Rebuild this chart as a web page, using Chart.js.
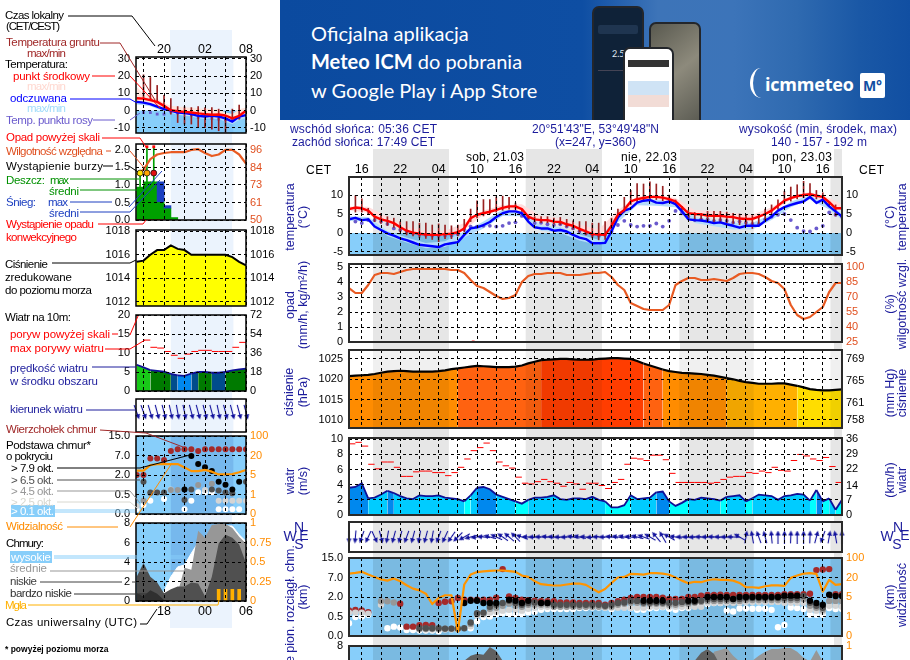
<!DOCTYPE html>
<html lang="pl">
<head>
<meta charset="utf-8">
<title>Meteogram ICM</title>
<script src="https://cdn.jsdelivr.net/npm/chart.js@4"></script>
<style>
html,body{margin:0;padding:0;background:#fff;width:910px;height:660px;overflow:hidden;font-family:"Liberation Sans",Arial,sans-serif;}
#stage{position:relative;width:910px;height:660px;overflow:hidden;}
.strip{position:absolute;}
canvas{position:absolute;}
#notes{position:absolute;left:0;top:0;z-index:5;}
#banner{position:absolute;left:280px;top:0;width:630px;height:120px;overflow:hidden;color:#fff;font-family:Lato,"Open Sans",sans-serif;
  background:linear-gradient(90deg,#0b4a9f 0,#0e4ea3 48%,#3d74b8 60%,#3c74b9 72%,#2f6ab0 82%,#1a58a6 92%,#114fa2 100%);}
#banner .ln{position:absolute;left:31px;font-size:20px;white-space:nowrap;}
.ph{position:absolute;border:2px solid #23262b;border-radius:7px;background:#0f2238;box-sizing:border-box;}
</style>
</head>
<body>
<div id="stage">
  <div class="strip" style="left:170px;top:30px;width:62px;height:598px;background:#ebf3fd"></div>
  <div class="strip" style="left:373px;top:149px;width:76px;height:511px;background:#e6e6e6"></div>
  <div class="strip" style="left:526px;top:149px;width:76px;height:511px;background:#e6e6e6"></div>
  <div class="strip" style="left:680px;top:149px;width:74px;height:511px;background:#e6e6e6"></div>
  <div class="strip" style="left:834px;top:149px;width:8px;height:511px;background:#e6e6e6"></div>
  <div id="banner">
    <div class="ln" style="top:21px">Oficjalna aplikacja</div>
    <div class="ln" style="top:49px"><b>Meteo ICM</b> do pobrania</div>
    <div class="ln" style="top:78px">w Google Play i App Store</div>
    <div class="ph" style="left:312px;top:6px;width:52px;height:130px">
      <div style="position:absolute;left:18px;top:40px;font:9px Lato;color:#dfe8f2">2.5°</div>
      <div style="position:absolute;left:4px;top:17px;width:40px;height:9px;background:#1f3550;border-radius:2px"></div>
      <div style="position:absolute;left:4px;top:62px;width:40px;height:1px;background:#445"></div>
    </div>
    <div class="ph" style="left:369px;top:22px;width:52px;height:120px;background:linear-gradient(140deg,#59594f,#8d8a7c 45%,#4e4f48)"></div>
    <div class="ph" style="left:343px;top:47px;width:51px;height:95px;background:#fff">
      <div style="position:absolute;left:3px;top:11px;width:41px;height:7px;background:#333"></div>
      <div style="position:absolute;left:3px;top:32px;width:41px;height:14px;background:#cfe3f5"></div>
      <div style="position:absolute;left:3px;top:46px;width:41px;height:12px;background:#f2dcd6"></div>
    </div>
    <div style="position:absolute;left:470px;top:68px;width:22px;height:30px;box-sizing:border-box;border-left:3px solid #fff;border-radius:50%"></div>
    <div style="position:absolute;left:485px;top:72px;font:bold 18px 'Open Sans',sans-serif;letter-spacing:-.2px;white-space:nowrap">icmmeteo</div>
    <div style="position:absolute;left:580px;top:73px;width:25px;height:25px;background:#fff;color:#114fa2;font:bold 14px/25px 'Open Sans',sans-serif;text-align:center;border-radius:2px">M°</div>
  </div>
</div>
<script>
// forecast hours, counted from Friday 00 local time
var mainHours = [];
for (var h = 14; h <= 91; h++) mainHours.push(h);
var leftHours = [16,17,18,19,20,21,22,23,24,25,26,27,28,29,30,31,32];
var bandHours = [14,17,20,23,26,29,32,35,38,41,44,47,50,53,56,59,62,65,68,71,74,77,80,83,86,89,91];
var _ = null;

// ---- main meteogram
var mainTemp = [6.3,6.7,6.5,5.9,4.3,3.6,3.2,2.6,1.5,0.6,0.1,-0.2,-0.4,-0.5,-0.5,-0.3,-0.2,0.2,1.2,3.9,4.8,5.2,5.6,6.1,6.6,7.0,7.0,6.3,4.3,3.6,3.4,3.4,3.0,2.9,2.3,1.9,1.1,0.4,-0.3,-0.4,-0.5,1.9,4.8,6.1,8.3,8.9,9.2,9.5,9.5,9.3,8.9,8.3,6.8,5.2,5.0,4.9,4.6,4.5,4.5,4.3,4.2,3.8,3.7,3.7,4.3,5.0,5.9,7.2,8.5,9.2,9.7,10.0,10.2,9.8,9.5,8.1,6.5,6.5];
var mainFeels = [3.6,4.0,3.4,3.6,1.7,0.8,-0.1,-0.7,-1.4,-1.9,-2.5,-3.1,-3.3,-3.5,-3.7,-3.0,-2.7,-2.4,-0.5,1.2,1.5,2.1,2.9,4.2,5.2,5.7,5.7,5.2,3.0,1.5,1.2,1.2,0.6,0.8,0.4,-0.5,-1.2,-1.6,-2.7,-2.7,-2.6,0.4,4.1,5.9,6.5,8.0,8.5,8.7,8.0,7.9,8.3,7.6,5.7,3.6,3.4,3.3,3.0,2.6,2.8,2.3,1.9,1.4,1.9,1.9,1.9,3.2,4.3,5.9,6.8,7.4,7.9,8.3,9.5,7.9,8.8,7.0,5.7,4.3];
var tempMax = [7.0,6.9,4.2,1.5,0.5,0.6,2.6,5.9,7.4,7.6,4.4,3.9,2.2,0.9,6.0,9.6,10.0,9.2,6.0,5.8,5.2,4.8,6.8,9.8,10.8,9.2,7.5];
var tempMin = [6.0,5.3,2.9,0.4,-0.6,-0.7,0.8,4.8,6.1,5.6,3.0,2.5,0.8,-0.8,3.9,8.3,9.0,7.5,4.6,4.0,3.6,3.2,5.3,8.8,9.8,7.3,6.2];
var feelsMax = [4.4,4.2,0.5,-1.2,-2.6,-2.2,0.4,3.0,6.2,5.8,2.0,1.6,-0.4,-1.8,5.0,8.8,8.8,8.4,4.2,3.3,2.6,2.6,5.0,8.2,10.0,7.8,5.0];
var feelsMin = [3.2,3.0,-0.8,-2.5,-4.0,-3.7,-1.2,1.2,4.5,4.4,0.6,0.0,-2.0,-3.2,2.8,7.3,7.2,6.8,2.6,1.8,0.9,0.9,3.4,6.8,8.8,6.2,3.5];
var groundMax = [10,9.8,9,6.5,4.8,5.2,4.3,3.9,3,3,3,2.6,2.6,2.1,2.4,2.1,1.9,2.1,3.6,6.3,8.5,8.8,8.8,9.5,9.7,9.4,7.9,6.3,4.8,4.3,4.3,4.3,3.9,4.1,3.6,3.2,3,3,2.6,2.6,3,3.9,6.3,9.4,11.2,13,12.9,13.5,12.9,12.3,10,8.7,7,6,5.4,5.2,5.7,5.7,5.7,5.5,5.2,5,4.8,4.6,4.8,6.3,7.4,8.7,11,12.1,12.7,13.6,13,11.2,10.6,7.9,7.4,6.5];
var groundMin = [5.5,5.5,5.5,5,3,2.5,2,1.5,0.3,-0.5,-0.8,-1.2,-1.4,-1.7,-2.3,-1.5,-1.5,-0.8,0.3,3,4,4.5,5,5.5,6,6.3,6.3,5.7,3.7,3,2.7,2.7,2.3,2.2,1.6,1,0.3,-0.5,-1.3,-1.8,-1.7,1,4,5.5,7.5,8,8.5,8.8,8.8,8.5,8.2,7.7,6,3.5,3.2,3.2,3,3,2.9,2.7,2.5,2.2,1.8,1.2,2.5,3.5,4.8,6.3,7.7,8.4,9,9.3,9.5,9,8.7,7.2,4.5,5.5];
var dewPoint = [_,3.0,2.6,3.4,3.4,3.0,2.4,1.2,0.8,0.4,-0.1,-0.4,-0.5,-0.7,-0.7,-0.7,-0.7,-0.3,1.0,1.7,1.7,1.9,1.9,1.7,1.9,2.6,2.8,4.5,3.9,2.6,2.7,2.3,2.1,2.3,1.7,1.2,0.4,-0.1,-0.5,-0.7,-0.5,0.4,2.1,3.2,2.1,1.7,1.9,1.9,2.5,1.7,3.2,5.8,5.2,4.3,3.4,3.6,3.6,3.2,3.4,3.2,2.7,3.0,2.7,2.4,2.4,3.6,4.3,4.8,5.0,3.4,1.4,0.5,0.4,1.2,1.9,5.4,4.8,4.3];
var humidity = [79,74,74,82,92,94,94,93,95,97,98,98,98,98,98,98,97,97,94,87,81,79,75,71,68,69,72,85,91,93,93,94,94,94,92,92,92,93,94,94,95,90,82,77,64,61,58,57,57,57,62,82,86,89,89,87,87,88,87,86,89,93,94,94,93,90,86,84,78,62,52,48,50,55,60,75,84,84];
var convectiveHours = [33.4];
var convectiveLevel = [0];
var pressure = [1020.8,1020.9,1021,1021.1,1021.3,1021.6,1021.9,1022,1022.1,1022,1021.9,1021.9,1021.9,1021.9,1022,1022.2,1022.5,1022.7,1022.9,1023.1,1023.3,1023.2,1023.1,1023,1023,1023,1023.1,1023.4,1023.9,1024.3,1024.7,1024.8,1024.9,1025,1025,1024.9,1024.8,1024.8,1024.8,1025,1025.1,1025.2,1025.2,1025.1,1025,1024.5,1023.9,1023.4,1022.9,1022.4,1022,1021.8,1021.6,1021.5,1021.4,1021.3,1021.1,1020.9,1020.6,1020.3,1020,1019.6,1019.3,1019.1,1018.9,1018.9,1018.9,1019,1019,1018.7,1018.4,1018,1017.6,1017.4,1017.3,1017.3,1017.4,1017.5];
var windSpeed = [3.6,3.7,4.2,2.2,2.3,2.7,3.2,2.9,2.5,2.2,2.1,2.6,2.5,2.5,2.6,2.3,2.2,2.1,1.8,2.6,3.6,3.7,3.4,2.7,2.4,2.1,1.8,1.5,2.0,2.3,2.3,2.4,2.6,2.1,2.0,2.2,2.2,2.1,2.4,2.0,1.8,1.0,1.0,1.3,2.6,2.1,2.2,2.3,3.0,3.1,1.8,1.2,1.6,2.1,2.0,2.3,2.2,2.1,1.9,2.4,2.5,2.6,1.8,2.2,2.7,2.6,2.5,2.0,2.5,2.6,2.8,2.7,1.9,3.3,1.8,2.2,0.7,2.0];
var windGust = [9.4,9.6,9.1,6.7,6.1,7.0,7.0,6.3,5.1,5.1,5.7,5.8,5.8,5.6,5.6,5.2,5.6,6.3,7.4,8.5,8.9,9.5,8.5,7.0,6.5,6.2,5.0,4.2,4.1,4.4,4.7,4.4,4.2,3.8,4.3,4.1,3.4,4.2,4.2,3.9,3.5,4.3,4.7,6.7,7.5,7.4,7.2,7.9,7.9,7.3,5.5,4.3,4.3,4.3,4.3,4.3,4.2,4.3,4.7,5.0,5.1,5.1,5.6,5.5,5.8,5.6,6.3,5.9,5.8,7.2,8.0,7.8,7.4,7.2,7.6,6.4,4.3,3.3];
var windDir = [180,185,200,205,155,165,190,195,195,200,195,190,195,190,200,205,215,225,240,255,262,275,285,295,305,310,315,290,275,270,272,278,275,270,268,280,283,275,265,272,270,278,280,283,278,285,290,300,320,330,300,280,272,270,268,272,270,274,272,270,272,300,10,350,340,345,355,0,0,2,0,0,2,15,200,10,350,0];
// cloud bases and visibility: position on the uneven axis, 0..4 = 0, 0.5, 2, 7, 15 km
var cloudTop = [1.31,1.34,1.31,1.22,_,_,_,_,1.66,.48,.48,.55,.57,.55,1.69,1.76,1.78,1.95,1.86,1.86,1.86,1.86,1.86,1.97,3.43,2.03,1.95,1.86,1.83,1.81,1.79,1.79,1.79,1.72,1.72,1.72,1.69,1.69,1.69,1.69,1.6,1.69,1.79,1.86,1.95,2,2,2,2,1.97,1.9,1.9,1.9,2,2,2.07,2.1,2.1,2.12,2.1,2.1,2.1,2.1,2.1,2.1,2.1,2.1,2.1,2.14,2.14,2.14,2.14,2.17,3.38,3.41,3.43,2.14,2.14];
var cloudOver79 = [_,_,_,_,_,_,_,_,_,_,_,_,_,_,_,_,_,_,1.69,1.81,1.81,1.69,1.69,1.69,_,1.86,1.81,1.69,1.81,_,1.69,1.69,_,_,_,_,_,_,_,_,_,_,_,_,_,_,1.81,1.81,1.81,1.81,_,_,_,1.81,1.81,_,2,2,2,2,1.9,2,2,2,2,2,2,2,2.07,2.07,2.07,_,1.81,1.69,1.6,2.12,2.05,2.05];
var cloudOver65 = [_,_,_,_,_,_,_,_,_,_,_,.4,.4,.4,.4,.38,.38,.38,.4,.69,1.17,1.2,1.5,1.6,1.69,1.81,1.69,1.6,1.69,1.72,1.69,1.69,1.6,1.6,1.6,1.6,1.6,1.6,1.6,1.6,1.55,1.6,1.69,1.72,1.8,1.8,1.72,1.72,1.72,1.72,1.7,1.7,1.75,1.75,1.75,1.81,1.9,1.9,1.9,1.9,1.9,1.9,1.95,1.95,1.95,1.95,1.95,1.95,1.95,1.95,1.95,2.05,1.7,1.55,1.45,_,_,_];
var cloudOver45 = [_,_,_,_,_,1.78,1.78,1.72,_,_,_,.37,.37,.37,.37,.37,.37,.37,_,.62,1.12,1.15,1.4,1.45,1.55,1.66,1.55,1.5,1.6,1.6,1.6,1.6,1.5,1.5,1.5,1.5,1.5,1.5,1.5,1.5,1.5,1.5,1.6,1.65,1.7,1.7,1.65,1.65,1.65,1.65,1.6,1.6,1.65,1.65,1.7,1.75,1.8,1.8,1.8,1.8,1.8,1.8,1.85,1.85,1.85,1.85,1.85,1.85,1.85,1.85,1.85,1.9,1.55,1.45,1.35,1.8,1.8,1.8];
var cloudOver25 = [1.2,1.2,1.2,1.15,_,1.6,_,_,_,_,_,.33,.33,.33,.33,.33,.33,.33,_,.5,1.05,1.1,1.2,1.25,1.3,1.35,1.35,1.3,1.4,1.45,1.5,1.5,1.5,1.5,1.5,1.5,1.5,1.5,1.5,1.5,1.45,1.45,1.45,1.45,1.45,1.45,1.45,1.5,1.5,1.5,1.5,1.5,1.5,1.5,1.5,1.5,1.7,1.7,1.7,1.7,1.7,1.7,1.75,1.75,1.75,1.75,1.75,1.75,1.7,1.7,1.7,1.7,1.35,1.3,1.25,1.55,1.55,1.5];
var cloudOver01 = [.66,.97,1,1.09,_,_,.4,.48,.43,.31,.31,.28,.28,.28,.24,_,_,_,_,.4,.74,.97,1,1.12,1.17,1.12,1.12,1.12,1.21,1.24,1.34,1.38,1.38,1.38,1.38,1.38,1.43,1.43,1.46,1.46,1.46,1.38,1.55,1.48,1.43,1.34,1.34,1.43,1.43,1.48,1.4,1.34,1.43,1.45,1.6,1.64,1.64,1.69,1.69,1.31,1.26,1.41,1.41,1.4,1.4,1.4,1.34,.45,.57,1.46,1.43,1.38,1.09,1.09,1.09,1.43,1.38,1.38];
var visibility = [3.2,3.24,3.29,3.15,3.03,2.9,2.84,2.95,2.81,2.6,2.43,2.34,2.17,1.64,1.95,2.09,2.09,.22,2.64,3.15,3.28,3.31,3.34,3.36,3.36,3.33,3.29,3.1,3.03,2.81,2.66,2.62,2.59,2.59,2.64,2.69,2.69,2.62,2.43,2.24,2.41,2.72,3,3.03,3.19,3.17,3.15,3.22,3.22,3.2,3.14,3,2.84,2.71,2.78,2.76,2.86,2.91,2.88,2.88,2.84,2.72,2.5,2.5,2.47,2.55,2.6,2.6,2.57,2.98,3.1,3.2,3.22,3.19,2.28,2.88,2.62,2.66];
var coverMid = [5,5,5,5,5,5,5,5,5,5,5,5,5,5,5,5,5,5,5,5,5,5,5,5,5,5,5,5,5,5,5,5,5,5,5,5,5,5,5,5,5,5,5,5,5,5,5,5,5,5,5,5,5,5,5,5,5,7.4,7.6,7.8,7,6.4,5,6.5,7,7.4,7.7,7.7,7.8,7.8,7.4,6.8,6.4,7.6,6.4,5,5,5];
var coverLow = [3,3,3,3,3,3,3,3,3,3,3,3,3,3,3,3,3,3,6.5,7,7.2,7.1,7.9,7.5,6.5,5,5,5,5,5,5,5,5,5,5,5,5,5,5,5,5,5,5,5,5,5,5,5,5,5,5,5,5,5,6.5,7.3,7.7,7.2,6,6,5,5,5,5,5,5,5,5,5,5,5,5,5,5,5,5,5,5];

// ---- legend meteogram on the left
var legTemp = [7.1,6.9,6,5,2.7,0.2,-0.4,-0.8,-1.2,-1.7,-2.1,-2.5,-2.3,-2.9,-4.6,-3.1,-0.2];
var legFeels = [5,4.6,3.7,2.3,0.8,0,-1.2,-1.5,-2.1,-3.1,-3.5,-3.1,-3.5,-4.6,-6.5,-3.5,-2.7];
var legTempMax = [13.8,9.4,8.5,6.9,4.2,2.7,2.3,1.7,1.7,1.2,1.2,0.8,0.8,-1.2,-2.1,0.8,1.7];
var legTempMin = [5.5,5,4,3,0.5,-1,-2,-2.5,-3,-3.5,-4,-4.5,-4.5,-5,-6,-5,-2.5];
var legFeelsMax = [6,5.5,5,3.5,2,1,0,-0.5,-1,-1.8,-2.4,-2.2,-2.4,-3,-5,-2.5,-1.5];
var legFeelsMin = [3.5,3,2.5,1,-0.5,-1.5,-2.5,-3,-3.5,-4.5,-5,-4.5,-5,-6.5,-8,-5.5,-4.5];
var legGroundMax = [_,20.8,19.2,14.6,8.8,6.9,2.3,2.3,1.7,2.3,1.7,1.7,0.8,-3,0.8,3.1,_];
var legGroundMin = [_,6.5,6.5,4.6,0,-2.1,-7,-7.9,-7.9,-10,-10,-10.9,-11.8,-12.7,-5,-5,_];
var legDew = [_,-1.2,-1.2,-2.1,-2.1,-0.8,-1.5,-1.2,-2.7,-4,-3.1,-4.6,-5,-5.4,-4.6,-4.2,_];
var legHumidity = [80,83,90,93,94,94.5,94.5,94.5,96,96.5,94,92,93,96,96,93,87];
var legRainHours = [16.5,17.5,18.5,19.5,20.5,21.5];
var legRain = [.94,1.09,1.09,.52,.34,.07];
var legSnowTop = [_,_,_,1.09,.41,_];
var legRainMaxHours = [16.5,17.5,18.5];
var legRainMax = [1.3,2.09,2.09];
var legOverScale = [_,2.09,2.09];
var legStorm = [1.34,1.34,1.34];
var legConvective = [0,0,0,0];
var legPressure = [1015.4,1015.5,1016,1016.4,1016.4,1016.8,1016.5,1016.4,1016,1016,1016,1016,1016,1016,1015.8,1015.4,1015.1];
var legWind = [6.9,6.2,5.5,5.3,5.1,4.5,4.1,4,4.6,5,5,4.8,4.8,5,5.4,5.7,5.9];
var legGust = [_,13.4,11.5,11.3,10.4,9.4,8.6,9.7,10.4,10.7,10.7,10.4,10.4,10.4,11.5,12.8,12.8];
var legDir = [160,160,163,165,165,168,170,168,165,165,165,165,168,165,165,165,165];
var legCloudTop = [2,2,2.85,2.85,2.77,3.23,3.32,3.32,3.32,3.23,3.32,3.32,3.32,3.32,3.32,3.32,3.32];
var legOver79 = [_,_,_,_,_,_,_,1.26,2.97,2.56,2.4,2.2,1.66,1.5,1.26,1.66,_];
var legOver65 = [_,1.66,1.1,1.1,1.1,_,_,.72,1.26,_,_,1.26,1.2,1.1,1.06,_,1.66];
var legOver45 = [_,.68,1.06,_,_,1.23,1.23,_,_,1.49,_,1.55,_,_,_,_,_];
var legOver25 = [.41,_,_,_,_,1.26,_,_,_,_,1.23,_,.68,.68,.68,.68,.68];
var legOver01 = [.24,.46,.68,_,.77,_,_,.24,.68,1.11,1.11,1.11,.24,.24,.24,.24,_];
var legVisibility = [2.22,2.22,2.51,2.55,2.56,2.56,2.56,2.39,2.2,2.2,2.26,2.17,2.03,2.03,2.05,2.14,2.26];
var legHigh = [0,0,0,0,1,2.5,3.5,3.7,4.9,6,6,7.5,7.7,7.7,7.7,6.8,6.1];
var legMid = [0,0,0,0,0,0,.8,3.4,3.2,7.2,6.5,7.8,7.9,7.9,7.5,6.6,5.9];
var legLow = [2.5,3.9,2.5,1.9,.8,1.2,1.5,1.5,1.9,1.8,.5,2.5,5.9,6.8,6.5,5.8,3.9];
var legVeryLow = [.8,.5,1.1,.75,.1,0,0,0,0,0,0,0,0,0,0,0,0];
var legFogHours = [28,29,30,31];
var legFog = [1.2,1.2,1.2,1.2];

// ---- tick labels
var cloudLevels = [0,1,2,3,4];
var cloudKm = ['0.0','0.5','2.0','7.0','15.0'];
var visKm = ['0','1','5','20','100'];
var coverTicks = [0,2,4,6,8];
var coverRight = ['0','0.25','0.5','0.75','1'];

var CLOUD_SKY = '#87cefa';
var FONT = 'Liberation Sans';
Chart.defaults.font.family = FONT;
Chart.defaults.font.size = 11;
Chart.defaults.animation = false;

function pts(xs, ys, shift) {
    return xs.map(function (x, i) { return {x: x + (shift || 0), y: ys[i]}; });
}
function line(xs, ys, color, width, axis) {
    return {type: 'line', data: pts(xs, ys), borderColor: color, borderWidth: width, pointRadius: 0, borderJoinStyle: 'round', yAxisID: axis || 'y'};
}
function bandPair(xs, hi, lo, color) {
    return [
        {type: 'line', data: pts(xs, hi), borderWidth: 0, pointRadius: 0, backgroundColor: color, fill: '+1'},
        {type: 'line', data: pts(xs, lo), borderWidth: 0, pointRadius: 0}
    ];
}
function dots(xs, ys, color, r, style) {
    return {type: 'scatter', data: pts(xs, ys), backgroundColor: color, borderColor: color, pointRadius: r, pointHoverRadius: r, pointStyle: style || 'circle', borderWidth: 0};
}
function sticks(xs, lo, hi, color, w) {
    return {type: 'bar', data: xs.map(function (x, i) { return {x: x, y: hi[i] === null ? null : [lo[i], hi[i]]}; }),
        backgroundColor: color, barThickness: w, grouped: false};
}
function dashes(xs, ys, color, r) {
    return {type: 'scatter', data: pts(xs, ys, .5), borderColor: color, backgroundColor: color, pointStyle: 'line', pointRadius: r, pointHoverRadius: r, borderWidth: 1};
}
function areaByValue(xs, ys, edge, edgeW, ramp) {
    return {type: 'line', data: pts(xs, ys), borderColor: edge, borderWidth: edgeW, pointRadius: 0, fill: 'start', backgroundColor: ramp(ys[0]),
        segment: {backgroundColor: function (c) { return ramp(c.p0.parsed.y); }}};
}
function area(xs, ys, color, edge) {
    return {type: 'line', data: pts(xs, ys), borderColor: edge || color, borderWidth: edge ? 1 : 0, pointRadius: 0, fill: 'start', backgroundColor: color};
}
function arrowImage(len) {
    var c = document.createElement('canvas');
    c.width = 7; c.height = len;
    var g = c.getContext('2d');
    g.strokeStyle = g.fillStyle = '#10109c';
    g.lineWidth = 1.1;
    g.beginPath(); g.moveTo(3.5, 2); g.lineTo(3.5, len); g.stroke();
    g.beginPath(); g.moveTo(3.5, 0); g.lineTo(6, 5); g.lineTo(1, 5); g.closePath(); g.fill();
    return c;
}
function arrows(xs, dirs, y, len) {
    return {type: 'scatter', data: xs.map(function (x) { return {x: x, y: y}; }), pointStyle: arrowImage(len), pointRadius: 5, pointRotation: dirs, clip: false};
}
function pressureColor(p) {
    if (p >= 1024.4) return '#ff3d00';
    if (p >= 1022.6) return '#ff6210';
    if (p >= 1020.4) return '#ff8c00';
    if (p >= 1018.6) return '#ffb000';
    if (p >= 1016.9) return '#ffdd00';
    return '#ffff00';
}
function windColor(v) {
    if (v < 2) return '#00ffff';
    if (v < 3) return '#00ccff';
    if (v < 4.3) return '#0088ee';
    if (v < 4.9) return '#004c8c';
    if (v < 5.8) return '#007a00';
    return '#18c818';
}

// white plot background, day or night strips and the freezing zone
var panelBack = {
    id: 'panelBack',
    beforeDatasetsDraw: function (chart, args, o) {
        var a = chart.chartArea, g = chart.ctx;
        g.save();
        g.fillStyle = o.bg;
        g.fillRect(a.left, a.top, a.width, a.height);
        if (!o.bandOver) paintBands(chart, o);
        if (o.zero) {
            var y0 = chart.scales.y.getPixelForValue(0);
            g.globalCompositeOperation = 'multiply';
            g.fillStyle = CLOUD_SKY;
            g.fillRect(a.left, y0, a.width, a.bottom - y0);
        }
        g.restore();
    },
    afterDatasetsDraw: function (chart, args, o) {
        if (o.bandOver) paintBands(chart, o);
    },
    afterDraw: function (chart, args, o) {
        var a = chart.chartArea, g = chart.ctx;
        g.save();
        g.strokeStyle = o.frame;
        g.lineWidth = o.frameW;
        g.strokeRect(a.left, a.top, a.width, a.height);
        g.restore();
    }
};
function paintBands(chart, o) {
    var a = chart.chartArea, g = chart.ctx, x = chart.scales.x;
    g.save();
    g.globalCompositeOperation = 'multiply';
    g.fillStyle = o.bandColor;
    o.bands.forEach(function (b) {
        var l = Math.max(x.getPixelForValue(b[0]), a.left), r = Math.min(x.getPixelForValue(b[1]), a.right);
        g.fillRect(l, a.top, r - l, a.height);
    });
    g.restore();
}

function yScale(position, min, max, ticks, labels, color, width, drawGrid) {
    return {
        type: 'linear', position: position, min: min, max: max,
        afterBuildTicks: function (s) { s.ticks = ticks.map(function (v) { return {value: v}; }); },
        afterFit: function (s) { s.width = width; },
        grid: {display: drawGrid, color: '#000', lineWidth: 1, z: 1, drawTicks: false},
        border: {display: false, dash: [3, 3]},
        ticks: {
            display: ticks.length > 0, color: color, padding: position === 'left' ? 6 : 4, autoSkip: false,
            font: {size: 11, family: FONT},
            callback: function (v) { var i = ticks.indexOf(v); return labels ? labels[i] : String(v); }
        }
    };
}

function panel(c) {
    var stage = document.getElementById('stage');
    var cv = document.createElement('canvas');
    var padT = 14, padB = 14;
    var w = c.left + c.w + c.right;
    var axisTop = c.xLabels && c.xPos === 'top' ? 15 : 0;
    var axisBot = c.xLabels && c.xPos === 'bottom' ? 15 : 0;
    cv.width = w;
    cv.height = padT + axisTop + c.h + axisBot + padB;
    cv.style.left = (c.x - c.left) + 'px';
    cv.style.top = (c.y - padT - axisTop) + 'px';
    stage.appendChild(cv);
    var scales = {
        x: {
            type: 'linear', min: c.xMin, max: c.xMax, offset: false, position: c.xPos || 'bottom',
            afterBuildTicks: function (s) { s.ticks = c.xGrid.map(function (v) { return {value: v}; }); },
            afterFit: function (s) { s.height = axisTop + axisBot; },
            grid: {display: true, offset: false, color: '#000', lineWidth: 1, z: 1, drawTicks: false},
            border: {display: false, dash: [3, 3]},
            ticks: {
                display: !!c.xLabels, color: '#000', padding: c.xPos === 'top' ? 0 : 3, autoSkip: false, maxRotation: 0, minRotation: 0,
                font: {size: 12.5, family: FONT},
                callback: function (v) { return c.xLabels ? c.xLabels(v) : ''; }
            }
        },
        y: yScale('left', c.yMin, c.yMax, c.yTicks, c.yLabels, '#000', c.left, c.yTicks.length > 0),
        y2: yScale('right', c.rMin, c.rMax, c.rTicks, c.rLabels, c.rColor || '#000', c.right, false)
    };
    new Chart(cv, {
        type: 'line',
        data: {datasets: c.sets},
        options: {
            responsive: false, maintainAspectRatio: false, devicePixelRatio: 1, animation: false,
            layout: {autoPadding: false, padding: {top: padT, bottom: padB, left: 0, right: 0}},
            plugins: {
                legend: {display: false}, tooltip: {enabled: false},
                panelBack: {bg: c.bg || '#fff', bands: c.bands, bandColor: c.bandColor, zero: !!c.zero, bandOver: !!c.bandOver, frame: c.frame, frameW: c.frameW}
            },
            scales: scales
        },
        plugins: [panelBack]
    });
}

function everyThird(from, to) {
    var list = [];
    for (var t = from; t <= to; t += 3) list.push(t);
    return list;
}
function two(n) { n = ((n % 24) + 24) % 24; return (n < 10 ? '0' : '') + n; }

var mainBands = [[17.75, 29.6], [41.6, 53.5], [65.6, 77.2], [89.2, 92]];
var M = {x: 349, w: 493, left: 60, right: 42, xMin: 14, xMax: 91, xGrid: everyThird(16, 91), bands: mainBands, bandColor: '#e6e6e6', frame: '#2a2a2a', frameW: 2};
var L = {x: 135.5, w: 110, left: 40, right: 40, xMin: 15.9, xMax: 32, xGrid: everyThird(17, 32), bands: [[21, 30.15]], bandColor: '#ebf3fd', frame: '#000', frameW: 1.5};
function mainPanel(o) { panel(Object.assign({}, M, o)); }
function legPanel(o) { panel(Object.assign({}, L, o)); }

// main: temperature
mainPanel({
    y: 177, h: 78, yMin: -5.79, yMax: 14.74, yTicks: [-5, 0, 5, 10], rMin: -5.79, rMax: 14.74, rTicks: [-5, 0, 5, 10], zero: true,
    xPos: 'top', xLabels: function (t) { return (t - 16) % 6 === 0 ? two(t) : ''; },
    sets: [
        line(mainHours, mainTemp, '#ff0000', 2.4),
        line(mainHours, mainFeels, '#0000ff', 2.4),
        sticks(mainHours, groundMin, groundMax, '#992222', 1),
        dots(mainHours, dewPoint, '#6a5acd', 1.9)
    ].concat(bandPair(bandHours, tempMax, tempMin, '#ffdcdc'), bandPair(bandHours, feelsMax, feelsMin, '#b4dcfa'))
});
// main: precipitation and humidity
mainPanel({
    y: 264, h: 78, yMin: 0, yMax: 5.2, yTicks: [0, 1, 2, 3, 4, 5], rMin: 25, rMax: 103, rTicks: [25, 40, 55, 70, 85, 100], rColor: '#e05020',
    sets: [
        dots(convectiveHours, convectiveLevel, '#ff0000', 2, 'rect'),
        line(mainHours, humidity, '#e85a22', 2.2, 'y2')
    ]
});
// main: pressure
mainPanel({
    y: 350, h: 78, yMin: 1008.03, yMax: 1027.2, yTicks: [1010, 1015, 1020, 1025], rMin: 756.5, rMax: 770.66, rTicks: [758, 761, 765, 769], bandOver: true, bandColor: '#f0f0f0',
    sets: [areaByValue(mainHours, pressure, '#000', 2.2, pressureColor)]
});
// main: wind speed
mainPanel({
    y: 437.7, h: 77.3, yMin: 0, yMax: 10.17, yTicks: [0, 2, 4, 6, 8, 10], rMin: 0, rMax: 36.6, rTicks: [0, 7, 14, 22, 29, 36],
    sets: [
        dashes(mainHours, windGust, '#ff0000', 3.2),
        areaByValue(mainHours, windSpeed, '#0f0f96', 1.8, windColor)
    ]
});
// main: wind direction
mainPanel({
    y: 522, h: 30, yMin: 0, yMax: 1, yTicks: [], rMin: 0, rMax: 1, rTicks: [],
    sets: [arrows(mainHours, windDir, .5, 13)]
});
// main: cloud base and visibility
mainPanel({
    y: 558, h: 78, yMin: 0, yMax: 4, yTicks: cloudLevels, yLabels: cloudKm, rMin: 0, rMax: 4, rTicks: cloudLevels, rLabels: visKm, rColor: '#ff8c00', bg: CLOUD_SKY,
    sets: [
        line(mainHours, visibility, '#ff9400', 2.2),
        dots(mainHours, cloudOver79, '#000', 3.2),
        dots(mainHours, cloudOver65, '#505050', 3.2),
        dots(mainHours, cloudOver45, '#979797', 3.2),
        dots(mainHours, cloudOver25, '#d4d4d4', 3.2),
        dots(mainHours, cloudTop, '#a52a2a', 3.2),
        dots(mainHours, cloudOver01, '#fff', 3.2)
    ]
});
// main: cloud cover, runs off the bottom of the page
mainPanel({
    y: 646, h: 78, yMin: 0, yMax: 8, yTicks: coverTicks, rMin: 0, rMax: 8, rTicks: coverTicks, rLabels: coverRight, rColor: '#ff8c00', bg: CLOUD_SKY,
    sets: [area(mainHours, coverLow, '#606060'), area(mainHours, coverMid, '#979797')]
});

// legend: temperature
legPanel({
    y: 57.3, h: 76.7, yMin: -13.1, yMax: 31.15, yTicks: [-10, 0, 10, 20, 30], rMin: -13.1, rMax: 31.15, rTicks: [-10, 0, 10, 20, 30], zero: true,
    xPos: 'top', xLabels: function (t) { return (t - 20) % 6 === 0 ? two(t) : ''; },
    sets: [
        line(leftHours, legTemp, '#ff0000', 2.4),
        line(leftHours, legFeels, '#0000ff', 2.4),
        sticks(leftHours, legGroundMin, legGroundMax, '#992222', 1),
        dots(leftHours, legDew, '#6a5acd', 2, 'rect')
    ].concat(bandPair(leftHours, legTempMax, legTempMin, '#ffe4dc'), bandPair(leftHours, legFeelsMax, legFeelsMin, '#b4dcfa'))
});
// legend: precipitation
legPanel({
    y: 144, h: 76, yMin: 0, yMax: 2.17, yTicks: [0, .5, 1, 1.5, 2], yLabels: ['0.0', '0.5', '1.0', '1.5', '2.0'], rMin: 50, rMax: 99.9, rTicks: [50, 61, 73, 84, 96], rColor: '#e05020',
    sets: [
        dots(legRainMaxHours, legOverScale, '#ff0000', 2, 'rect'),
        {type: 'scatter', data: pts(legRainMaxHours, legStorm), pointRadius: 3, backgroundColor: ['#ffe000', '#ffa500', '#e01010'], borderColor: '#000', borderWidth: .7, clip: false},
        line(leftHours, legHumidity, '#e85a22', 2.2, 'y2'),
        sticks(legRainMaxHours, legRainMaxHours.map(function () { return 0; }), legRainMax, '#00a000', 1),
        dashes(legRainHours.slice(0, 4).map(function (t) { return t - .5; }), legConvective, '#ff0000', 3.4),
        sticks(legRainHours, legRain, legSnowTop, '#1c3fc0', 7),
        sticks(legRainHours, legRain.map(function () { return 0; }), legRain, '#00a000', 7)
    ]
});
// legend: pressure
legPanel({
    y: 229.7, h: 76.3, yMin: 1011.63, yMax: 1018.11, yTicks: [1012, 1014, 1016, 1018], rMin: 1011.63, rMax: 1018.11, rTicks: [1012, 1014, 1016, 1018],
    sets: [areaByValue(leftHours, legPressure, '#000', 2, pressureColor)]
});
// legend: wind speed
legPanel({
    y: 315, h: 76, yMin: 0, yMax: 20, yTicks: [0, 5, 10, 15, 20], rMin: 0, rMax: 72, rTicks: [0, 18, 36, 54, 72],
    sets: [
        dashes(leftHours, legGust, '#ff0000', 3.4),
        areaByValue(leftHours, legWind, '#0f0f96', 1.8, windColor)
    ]
});
// legend: wind direction
legPanel({
    y: 398.5, h: 33.5, yMin: 0, yMax: 1, yTicks: [], rMin: 0, rMax: 1, rTicks: [],
    sets: [arrows(leftHours, legDir, .6, 15)]
});
// legend: cloud base and visibility
legPanel({
    y: 436, h: 78, yMin: 0, yMax: 4, yTicks: cloudLevels, yLabels: cloudKm, rMin: 0, rMax: 4, rTicks: cloudLevels, rLabels: visKm, rColor: '#ff8c00', bg: CLOUD_SKY, bandColor: '#dfe4f2',
    sets: [
        line(leftHours, legVisibility, '#ff9400', 2.2),
        dots(leftHours, legOver79, '#000', 3),
        dots(leftHours, legOver65, '#505050', 3),
        dots(leftHours, legOver45, '#979797', 3),
        dots(leftHours, legOver25, '#d4d4d4', 3),
        dots(leftHours, legCloudTop, '#a52a2a', 3),
        dots(leftHours, legOver01, '#fff', 3)
    ]
});
// legend: cloud cover
legPanel({
    y: 523, h: 78, yMin: 0, yMax: 8, yTicks: coverTicks, rMin: 0, rMax: 8, rTicks: coverTicks, rLabels: coverRight, rColor: '#ff8c00', bg: CLOUD_SKY, bandColor: '#dfe4f2',
    xPos: 'bottom', xLabels: function (t) { return (t - 20) % 6 === 0 ? two(t - 2) : ''; },
    sets: [
        sticks(legFogHours, legFog.map(function () { return 0; }), legFog, '#ffb000', 3),
        area(leftHours, legVeryLow, '#303030'),
        area(leftHours, legLow, '#505050'),
        area(leftHours, legMid, '#979797'),
        area(leftHours, legHigh, '#ffffff', '#ffffff')
    ]
});

// ---- texts and callout lines over the charts
var NAVY = '#1c1c9c', BROWN = '#a02828', RED = '#ff0000', ORANGE = '#e05020', GREEN = '#009000', BLUE = '#1c3fc0', PURPLE = '#6a5acd', AMBER = '#ff8c00';
// x, baseline, text, colour, width on the page
var notes = [
    [5, 19, 'Czas lokalny', '#000', 59], [6, 30, '(CET/CEST)', '#000', 54],
    [6, 46, 'Temperatura gruntu', BROWN, 94], [27, 57, 'max/min', BROWN, 39],
    [5, 68, 'Temperatura:', '#000', 63],
    [13, 80, 'punkt środkowy', RED, 77], [27, 90, 'max/min', '#ffd8d0', 39],
    [10, 102, 'odczuwana', '#0000ff', 57], [27, 112, 'max/min', '#a0dcfa', 39],
    [6, 124, 'Temp. punktu rosy', PURPLE, 87],
    [6, 141, 'Opad powyżej skali', RED, 94], [6, 155, 'Wilgotność względna', ORANGE, 97],
    [6, 170, 'Wystąpienie burzy', '#000', 97],
    [6, 184, 'Deszcz:', GREEN, 39], [50, 184, 'max', GREEN, 19], [49, 195, 'średni', GREEN, 30],
    [6, 206, 'Śnieg:', BLUE, 30], [48, 206, 'max', BLUE, 20], [49, 217, 'średni', BLUE, 30],
    [6, 228, 'Wystąpienie opadu', RED, 88], [6, 241, 'konwekcyjnego', RED, 71],
    [5, 268, 'Ciśnienie', '#000', 43], [5, 281, 'zredukowane', '#000', 67], [5, 294, 'do poziomu morza', '#000', 87],
    [5, 321, 'Wiatr na 10m:', '#000', 66],
    [10, 338, 'poryw powyżej skali', RED, 100], [10, 352, 'max porywy wiatru', RED, 94],
    [10, 372, 'prędkość wiatru', NAVY, 78], [10, 385, 'w środku obszaru', NAVY, 88],
    [10, 413, 'kierunek wiatru', NAVY, 73],
    [6, 433, 'Wierzchołek chmur', BROWN, 91],
    [6, 449, 'Podstawa chmur*', '#000', 85], [6, 460, 'o pokryciu', '#000', 47],
    [11, 472, '> 7.9 okt.', '#000', 43], [11, 484, '> 6.5 okt.', '#505050', 43], [11, 495, '> 4.5 okt.', '#979797', 43], [11, 506, '> 2.5 okt.', '#d8d8d0', 43], [11, 515, '> 0.1 okt.', '#fff', 43],
    [6, 530, 'Widzialność', AMBER, 57], [6, 547, 'Chmury:', '#000', 38],
    [11, 561, 'wysokie', '#fff', 40], [10, 572, 'średnie', '#979797', 37], [10, 585, 'niskie', '#404040', 27], [10, 597, 'bardzo niskie', '#303030', 62],
    [5, 609, 'Mgła', '#ffb000', 22], [6, 626, 'Czas uniwersalny (UTC)', '#000', 131]
];
var header = [
    [290, 133, 'wschód słońca: 05:36 CET', NAVY, 147], [292, 146, 'zachód słońca: 17:49 CET', NAVY, 143],
    [532, 133, '20°51\'43"E, 53°49\'48"N', NAVY, 127], [555, 146, '(x=247,  y=360)', NAVY, 81],
    [739, 133, 'wysokość (min, środek, max)', NAVY, 158], [771, 146, '140 - 157 - 192 m', NAVY, 96],
    [466, 161, 'sob, 21.03', '#000', 58], [621, 161, 'nie, 22.03', '#000', 56], [772, 161, 'pon, 23.03', '#000', 60],
    [306, 174, 'CET', '#000', 25], [859, 174, 'CET', '#000', 25]
];
var sideTitles = [
    [294, 217, 'temperatura'], [307, 217, '(°C)'], [894, 217, '(°C)'], [906, 217, 'temperatura'],
    [294, 305, 'opad'], [307, 305, '(mm/h, kg/m²/h)'], [894, 304, '(%)'], [906, 304, 'wilgotność wzgl.'],
    [293, 392, 'ciśnienie'], [307, 392, '(hPa)'], [894, 393, '(mm Hg)'], [906, 393, 'ciśnienie'],
    [294, 481, 'wiatr'], [307, 481, '(m/s)'], [894, 480, '(km/h)'], [906, 480, 'wiatr'],
    [307, 597, '(km)'], [894, 597, '(km)'], [906, 595, 'widzialność']
];
var compass = [[299, 532, 'N'], [290, 541, 'W'], [304, 540, 'E'], [299, 549, 'S'], [898, 532, 'N'], [887, 541, 'W'], [905, 540, 'E'], [897, 549, 'S']];
var callouts = [
    ['#000', [68, 16, 132, 16, 155, 46]],
    [BROWN, [100, 43, 120, 43, 155, 100]],
    [RED, [92, 76, 115, 76]], [RED, [130, 76, 160, 108]],
    ['#0000ff', [70, 99, 130, 99, 137, 103]],
    [PURPLE, [93, 120, 115, 120]], [PURPLE, [130, 120, 140, 113]],
    [RED, [102, 138, 140, 138, 146, 147]],
    [ORANGE, [106, 151, 111, 151]], [ORANGE, [130, 151, 146, 170]],
    ['#000', [103, 166, 113, 166]], ['#000', [129, 166, 138, 172]],
    [GREEN, [70, 179, 139, 179]], [GREEN, [80, 190, 137, 190]],
    [BLUE, [70, 202, 112, 202]], [BLUE, [129, 207, 162, 171]],
    [BLUE, [80, 212, 130, 212, 160, 180]],
    [RED, [98, 224, 143, 224, 146, 220]],
    ['#000', [52, 263, 130, 263, 136, 260]],
    [RED, [112, 334, 118, 334]], [RED, [130, 335, 138, 316]],
    [RED, [105, 349, 130, 349, 145, 340]],
    [NAVY, [92, 367, 136, 367]], [NAVY, [86, 410, 136, 410]],
    [BROWN, [100, 430, 146, 433, 183, 447]],
    ['#000', [57, 468, 140, 468, 190, 455]],
    ['#505050', [57, 480, 140, 480]],
    ['#979797', [57, 491, 130, 491, 140, 503]],
    ['#d8d8d0', [57, 502, 130, 502, 137, 508]],
    [CLOUD_SKY, [55, 510, 135, 510]], [CLOUD_SKY, [55, 512, 135, 512]],
    [AMBER, [67, 527, 118, 527]], [AMBER, [130, 527, 172, 463]],
    [CLOUD_SKY, [54, 556, 185, 556]], [CLOUD_SKY, [54, 558, 185, 558]],
    ['#979797', [50, 571, 192, 571]],
    ['#404040', [40, 582, 122, 582]], ['#404040', [132, 582, 135, 582]],
    ['#303030', [74, 594, 147, 594]],
    ['#ffb000', [28, 605, 218, 605, 219, 600]],
    ['#000', [140, 624, 147, 624, 157, 609]]
];

var SVGNS = 'http://www.w3.org/2000/svg';
var svg = document.createElementNS(SVGNS, 'svg');
svg.setAttribute('id', 'notes');
svg.setAttribute('width', 910);
svg.setAttribute('height', 660);
document.getElementById('stage').appendChild(svg);
function add(tag, attrs, text) {
    var el = document.createElementNS(SVGNS, tag);
    Object.keys(attrs).forEach(function (k) { el.setAttribute(k, attrs[k]); });
    if (text) el.textContent = text;
    svg.appendChild(el);
    return el;
}
add('rect', {x: 11, y: 505, width: 44, height: 12, fill: CLOUD_SKY});
add('rect', {x: 10, y: 551, width: 42, height: 12, fill: CLOUD_SKY});
callouts.forEach(function (c) {
    add('polyline', {points: c[1].join(' '), fill: 'none', stroke: c[0], 'stroke-width': 1});
});
notes.forEach(function (n) {
    add('text', {x: n[0], y: n[1], fill: n[3], 'font-family': FONT, 'font-size': 11.5, textLength: n[4], lengthAdjust: 'spacing'}, n[2]);
});
header.forEach(function (n) {
    add('text', {x: n[0], y: n[1], fill: n[3], 'font-family': FONT, 'font-size': 12, textLength: n[4], lengthAdjust: 'spacing'}, n[2]);
});
sideTitles.forEach(function (n) {
    add('text', {x: n[0], y: n[1], fill: NAVY, 'font-family': FONT, 'font-size': 12.5, 'text-anchor': 'middle', transform: 'rotate(-90 ' + n[0] + ' ' + n[1] + ')'}, n[2]);
});
add('text', {x: 294, y: 545, fill: NAVY, 'font-family': FONT, 'font-size': 12.5, 'text-anchor': 'end', transform: 'rotate(-90 294 545)'}, 'e pion. rozciągł. chm.');
compass.forEach(function (n) {
    add('text', {x: n[0], y: n[1], fill: NAVY, 'font-family': FONT, 'font-size': 14, 'text-anchor': 'middle'}, n[2]);
});
add('text', {x: 5, y: 652, fill: '#000', 'font-family': FONT, 'font-size': 8.5, 'font-weight': 'bold'}, '* powyżej poziomu morza');
</script>
</body>
</html>
